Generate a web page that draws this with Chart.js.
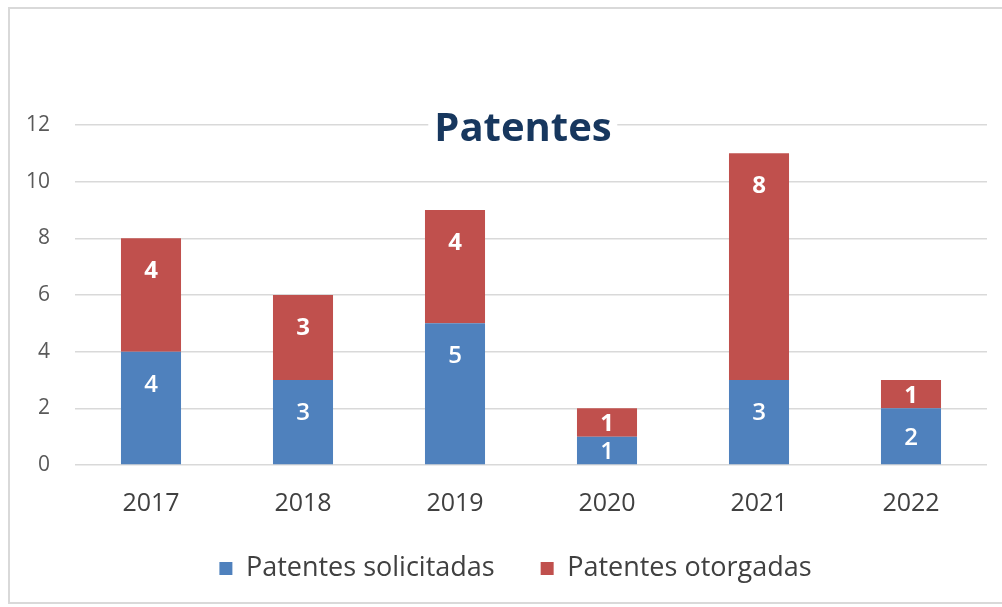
<!DOCTYPE html>
<html>
<head>
<meta charset="utf-8">
<script src="https://cdn.jsdelivr.net/npm/chart.js@4.4.1/dist/chart.umd.min.js"></script>
<style>
  body { margin: 0; background: #fff; font-family: "Open Sans", sans-serif; }
  #wrap { position: relative; width: 1002px; height: 607px; overflow: hidden; }
  #frame { position: absolute; left: 8px; top: 7px; width: 1010px; height: 597px;
           border: 2px solid #d9d9d9; box-sizing: border-box; }
  #title { position: absolute; left: 523px; top: 102px; transform: translateX(-50%);
           background: #fff; padding: 0 6px; color: #17375e; font: bold 40px "Open Sans", sans-serif;
           line-height: 48px; white-space: nowrap; }
  canvas { position: absolute; left: 0; top: 0; }
</style>
</head>
<body>
<div id="wrap">
  <div id="frame"></div>
  <canvas id="myChart" width="1002" height="607"></canvas>
  <div id="title">Patentes</div>
</div>
<script>
  const years = ['2017', '2018', '2019', '2020', '2021', '2022'];
  const solicitadas = [4, 3, 5, 1, 3, 2];
  const otorgadas = [4, 3, 4, 1, 8, 1];
  const yTicks = [0, 2, 4, 6, 8, 10, 12];

  // white value labels near the top end of each bar segment (like Excel "inside end")
  const barLabels = {
    id: 'barLabels',
    afterDatasetsDraw(chart) {
      const ctx = chart.ctx;
      ctx.save();
      ctx.fillStyle = '#ffffff';
      ctx.textAlign = 'center';
      ctx.textBaseline = 'middle';
      chart.data.datasets.forEach((ds, i) => {
        ctx.font = (i === 1 ? 'bold ' : '600 ') + '24px "Open Sans", sans-serif';
        chart.getDatasetMeta(i).data.forEach((bar, j) => {
          const h = bar.base - bar.y;
          const off = Math.min(33, h / 2 + 2);
          ctx.fillText(String(ds.data[j]), bar.x, bar.y + off);
        });
      });
      ctx.restore();
    }
  };

  // legend sits a bit right of the canvas centre in the original
  const legendShift = {
    id: 'legendShift',
    afterLayout(chart) {
      const lg = chart.legend;
      lg.left += 22; lg.right += 22;
      lg.top -= 11; lg.bottom -= 11;
    }
  };

  const ctx = document.getElementById('myChart').getContext('2d');
  const myChart = new Chart(ctx, {
    type: 'bar',
    data: {
      labels: years,
      datasets: [
        { label: 'Patentes solicitadas', data: solicitadas, backgroundColor: '#4f81bd',
          categoryPercentage: 1, barPercentage: 0.395 },
        { label: 'Patentes otorgadas', data: otorgadas, backgroundColor: '#c0504d',
          categoryPercentage: 1, barPercentage: 0.395 }
      ]
    },
    options: {
      responsive: false,
      animation: false,
      layout: { padding: { left: 0, right: 15, top: 125, bottom: 4 } },
      plugins: {
        title: { display: false },
        tooltip: { enabled: false },
        legend: {
          position: 'bottom',
          labels: {
            color: '#404040',
            font: { size: 27, family: '"Open Sans", sans-serif' },
            boxWidth: 13, boxHeight: 13, padding: 46
          }
        }
      },
      scales: {
        x: {
          stacked: true,
          grid: { display: false, drawTicks: false },
          border: { display: false },
          ticks: { color: '#404040', padding: 24, font: { size: 25, family: '"Open Sans", sans-serif' } },
          afterFit(scale) { scale.height = 55; }
        },
        y: {
          stacked: true,
          min: 0, max: 12,
          afterBuildTicks(scale) { scale.ticks = yTicks.map(v => ({ value: v })); },
          grid: { color: '#d9d9d9', lineWidth: 1.5, drawTicks: false },
          border: { display: false },
          ticks: { color: '#595959', padding: 25, font: { size: 21, family: '"Open Sans", sans-serif' } },
          afterFit(scale) { scale.width = 75; }
        }
      }
    },
    plugins: [barLabels, legendShift]
  });
</script>
</body>
</html>
